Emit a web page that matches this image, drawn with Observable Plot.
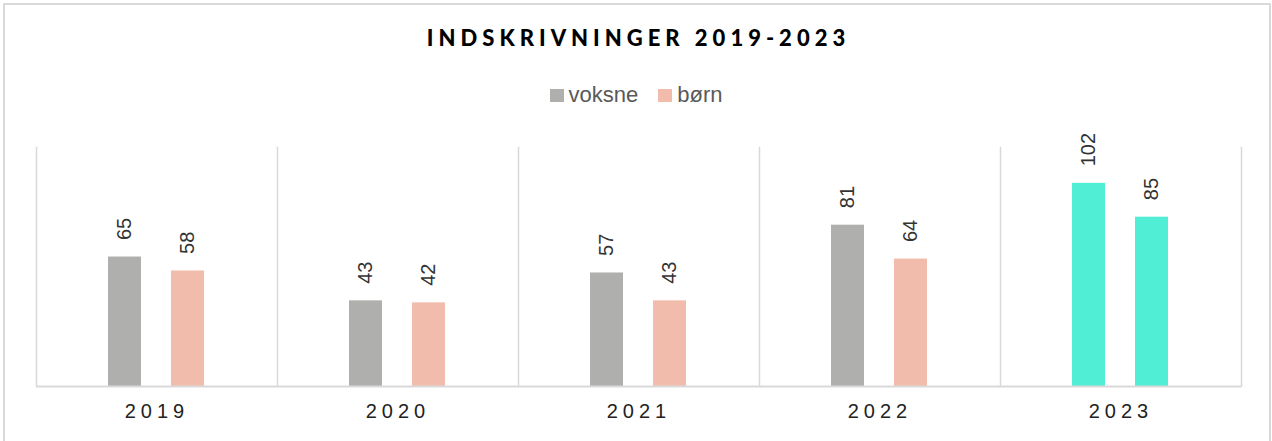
<!DOCTYPE html>
<html><head><meta charset="utf-8">
<script src="https://cdn.jsdelivr.net/npm/d3@7"></script>
<script src="https://cdn.jsdelivr.net/npm/@observablehq/plot@0.6"></script>
<style>
body{margin:0;background:#fff;}
#wrap{position:relative;width:1272px;height:441px;overflow:hidden;background:#fff;}
#border{position:absolute;left:3px;top:3px;width:1268px;height:450px;box-sizing:border-box;border:2px solid #d9d9d9;pointer-events:none;}
#title{position:absolute;top:24px;left:0;width:1272px;text-align:center;font-family:Lato,"Open Sans",sans-serif;font-weight:900;font-size:22px;letter-spacing:5px;padding-left:5px;box-sizing:border-box;color:#000;line-height:28px;}
#legend{position:absolute;top:82px;left:0;width:1272px;display:flex;justify-content:center;align-items:center;gap:20px;font-family:"Liberation Sans",Arial,sans-serif;font-size:22px;color:#595959;line-height:26px;}
#legend .item{display:flex;align-items:center;gap:5px;}
#legend .sw{width:14px;height:13px;display:inline-block;}
#chart{position:absolute;top:110px;left:0;}
#chart g[aria-label="fx-axis tick label"] text{letter-spacing:5px;}
</style>
</head><body>
<div id="wrap">
  <div id="title"></div>
  <div id="legend"></div>
  <div id="chart"></div>
  <div id="border"></div>
</div>
<script>
const titleText = "INDSKRIVNINGER 2019-2023";
const years = ["2019", "2020", "2021", "2022", "2023"];
const series = ["voksne", "børn"];
const voksne = [65, 43, 57, 81, 102];
const born = [58, 42, 43, 64, 85];
const highlightYear = "2023";
const seriesColors = ["#afafad", "#f1bcac"];
const highlightColor = "#50eed4";

const colorOf = Object.fromEntries(series.map((s, i) => [s, seriesColors[i]]));
const data = years.flatMap((y, i) => [
  {year: y, group: series[0], value: voksne[i]},
  {year: y, group: series[1], value: born[i]}
]);

document.getElementById("title").textContent = titleText;
const legend = document.getElementById("legend");
series.forEach((s, i) => {
  const item = document.createElement("div");
  item.className = "item";
  const sw = document.createElement("span");
  sw.className = "sw";
  sw.style.background = seriesColors[i];
  const lab = document.createElement("span");
  lab.textContent = s;
  item.append(sw, lab);
  legend.append(item);
});

const chart = Plot.plot({
  width: 1272,
  height: 331,
  marginTop: 37,
  marginBottom: 55,
  marginLeft: 35,
  marginRight: 30,
  style: {fontFamily: "'Liberation Sans', Arial, sans-serif", background: "transparent"},
  fx: {domain: years, padding: 0, label: null},
  x: {domain: series, paddingInner: 0.476, paddingOuter: 1.15, axis: null},
  y: {domain: [0, 120], axis: null},
  marks: [
    Plot.frame({anchor: "left", stroke: "#d9d9d9", strokeWidth: 1.5, strokeOpacity: 1}),
    Plot.frame({anchor: "right", stroke: "#d9d9d9", strokeWidth: 1.5, strokeOpacity: 1, facetAnchor: "right"}),
    Plot.barY(data, {
      fx: "year", x: "group", y: "value",
      fill: d => d.year === highlightYear ? highlightColor : colorOf[d.group]
    }),
    Plot.ruleY([0], {stroke: "#d9d9d9", strokeWidth: 2}),
    Plot.text(data, {
      fx: "year", x: "group", y: "value", text: "value",
      rotate: -90, textAnchor: "start", dy: -17, fontSize: 20, fill: "#333"
    }),
    Plot.axisFx({anchor: "bottom", tickSize: 0, tickPadding: 17, fontSize: 20, label: null, fill: "#222"})
  ]
});
document.getElementById("chart").append(chart);
</script>
</body></html>
